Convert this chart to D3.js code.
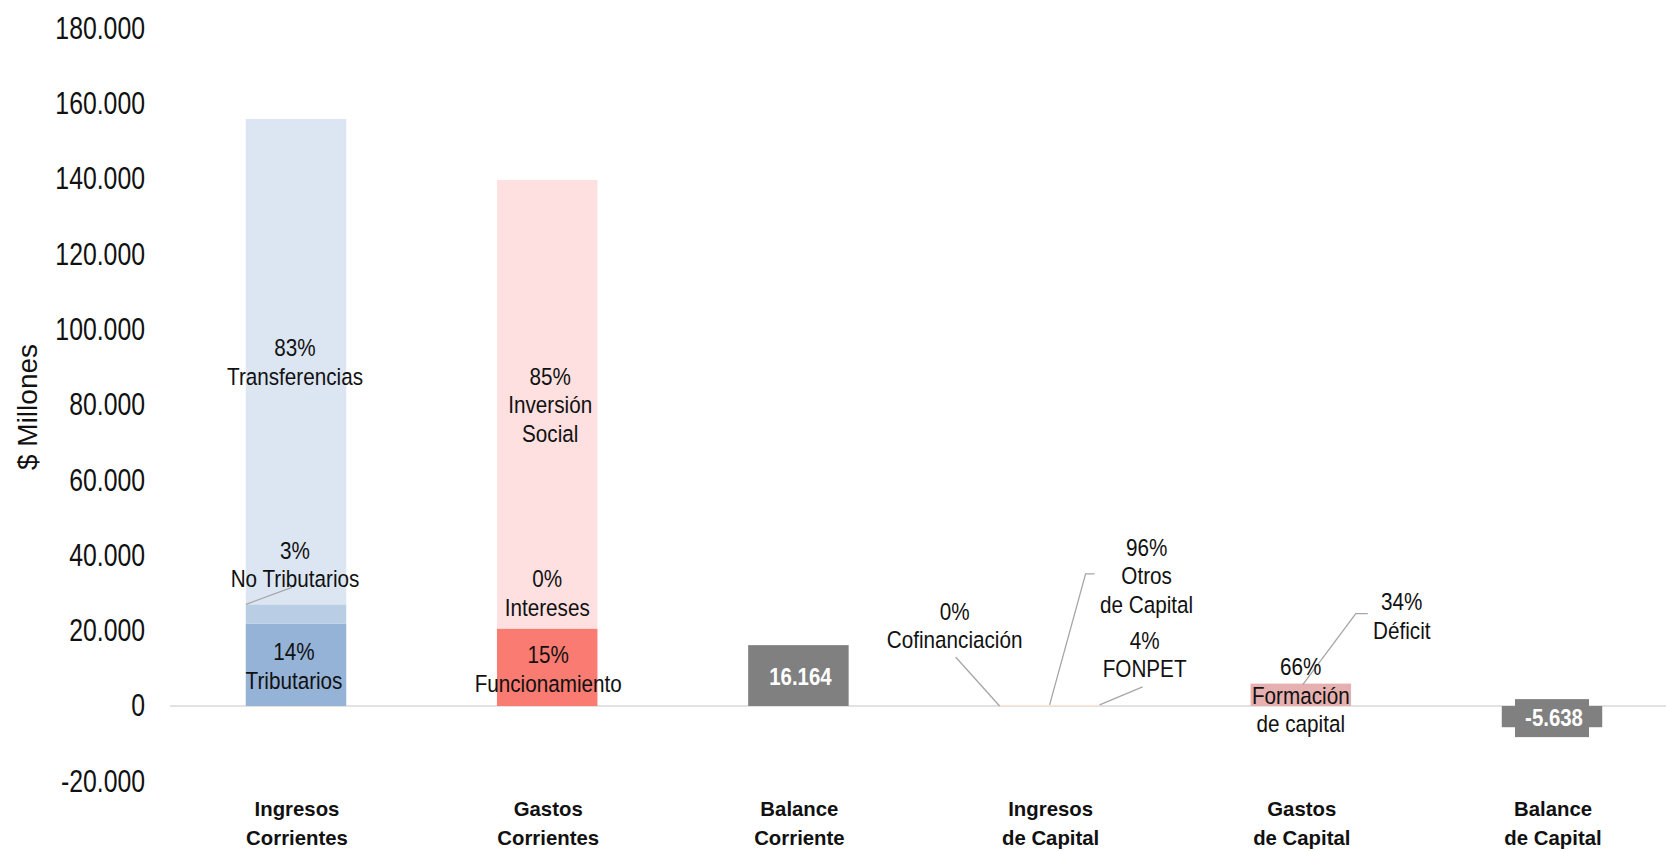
<!DOCTYPE html>
<html>
<head>
<meta charset="utf-8">
<script src="https://cdn.jsdelivr.net/npm/d3@7"></script>
<style>
  body { margin: 0; background: #fff; }
  svg { display: block; font-family: "Liberation Sans", Arial, sans-serif; }
</style>
</head>
<body>
<svg id="chart" width="1666" height="851"></svg>
<script>
// categories and tick labels
const categories = ["Ingresos Corrientes", "Gastos Corrientes", "Balance Corriente",
  "Ingresos de Capital", "Gastos de Capital", "Balance de Capital"];
const categoryLines = [["Ingresos", "Corrientes"], ["Gastos", "Corrientes"], ["Balance", "Corriente"],
  ["Ingresos", "de Capital"], ["Gastos", "de Capital"], ["Balance", "de Capital"]];
const yTicks = [-20000, 0, 20000, 40000, 60000, 80000, 100000, 120000, 140000, 160000, 180000];

// series values ($ millones), stacked from the bottom up
const ingresosCorrientes = [
  { name: "Tributarios", value: 21900, pct: "14%" },
  { name: "No Tributarios", value: 5100, pct: "3%" },
  { name: "Transferencias", value: 128900, pct: "83%" }
];
const gastosCorrientes = [
  { name: "Funcionamiento", value: 20450, pct: "15%" },
  { name: "Intereses", value: 250, pct: "0%" },
  { name: "Inversión Social", value: 119000, pct: "85%" }
];
const ingresosCapital = [
  { name: "Cofinanciación", value: 0, pct: "0%" },
  { name: "Otros de Capital", value: 300, pct: "96%" },
  { name: "FONPET", value: 12, pct: "4%" }
];
const gastosCapital = [
  { name: "Formación de capital", value: 5950, pct: "66%" },
  { name: "Déficit", value: 0, pct: "34%" }
];
const balances = { "Balance Corriente": 16164, "Balance de Capital": -5638 };

// styles
const colors = {
  "Tributarios": "#95b3d7", "No Tributarios": "#b9cde5", "Transferencias": "#dce6f2",
  "Funcionamiento": "#f97b72", "Intereses": "#fdd0cd", "Inversión Social": "#fde0df",
  "Cofinanciación": "#fbe5d6", "Otros de Capital": "#fbe5d6", "FONPET": "#fbe5d6",
  "Formación de capital": "#e6b0b0", "Déficit": "none", "balance": "#808080"
};
const labelText = {
  "Transferencias": ["Transferencias"], "No Tributarios": ["No Tributarios"], "Tributarios": ["Tributarios"],
  "Inversión Social": ["Inversión", "Social"], "Intereses": ["Intereses"], "Funcionamiento": ["Funcionamiento"],
  "Cofinanciación": ["Cofinanciación"], "Otros de Capital": ["Otros", "de Capital"], "FONPET": ["FONPET"],
  "Formación de capital": ["Formación", "de capital"], "Déficit": ["Déficit"]
};
// offsets from the segment centre; leader points relative to bar centre / segment top
const labelPlace = {
  "Tributarios": { dx: -2, dy: 2 },
  "No Tributarios": { dx: -1, dy: -49, leader: [[-50, 0], [-4, -17]] },
  "Transferencias": { dx: -1, dy: 1 },
  "Funcionamiento": { dx: 1, dy: 2 },
  "Intereses": { dx: 0, dy: -35 },
  "Inversión Social": { dx: 3, dy: 1 },
  "Cofinanciación": { dx: -95, dy: -80, leader: [[-50, 0], [-94, -49]] },
  "Otros de Capital": { dx: 97, dy: -129, leader: [[0, 0], [36, -131], [45, -131]] },
  "FONPET": { dx: 95, dy: -50, leader: [[50, 0], [93, -18]] },
  "Formación de capital": { dx: 0, dy: 1 },
  "Déficit": { dx: 101, dy: -67, leader: [[2, 1], [55, -70], [67, -70]] }
};

const svg = d3.select("#chart");
const x = d3.scaleBand().domain(categories).range([170.4, 1677.6]).paddingInner(0.6).paddingOuter(0.3);
const y = d3.scaleLinear().domain([-20000, 180000]).range([781.3, 28.3]);
const lineH = 28.5;

const loc = d3.formatLocale({ decimal: ",", thousands: ".", grouping: [3], currency: ["$", ""], minus: "-" });
const fmt = loc.format(",d");

// y axis (labels only, condensed like the original)
const yAxis = svg.append("g")
  .attr("transform", "translate(145,0)")
  .call(d3.axisLeft(y).tickValues(yTicks).tickFormat(fmt).tickSize(0).tickPadding(0));
yAxis.select(".domain").remove();
yAxis.selectAll("text")
  .attr("transform", "scale(0.8,1)")
  .style("font-size", "31px")
  .style("font-family", "'Liberation Sans', Arial, sans-serif")
  .attr("fill", "#111");

svg.append("text")
  .attr("transform", "translate(37,407) rotate(-90)")
  .attr("text-anchor", "middle")
  .style("font-size", "28px")
  .attr("fill", "#111")
  .text("$ Millones");

function multiLine(g, cx, cy, lines, opts) {
  const t = g.append("g")
    .attr("transform", `translate(${cx},0) scale(${opts.sx || 0.88},1)`)
    .append("text")
    .attr("text-anchor", "middle")
    .style("font-size", opts.size || "23.5px")
    .style("font-weight", opts.weight || "normal")
    .attr("fill", opts.fill || "#111");
  const top = cy - (lines.length - 1) * lineH / 2;
  lines.forEach((l, i) => {
    t.append("tspan").attr("x", 0).attr("y", top + i * lineH).attr("dominant-baseline", "central").text(l);
  });
}

const stacks = [
  ["Ingresos Corrientes", ingresosCorrientes],
  ["Gastos Corrientes", gastosCorrientes],
  ["Ingresos de Capital", ingresosCapital],
  ["Gastos de Capital", gastosCapital]
];

// zero line
svg.append("line")
  .attr("x1", 170).attr("x2", 1666).attr("y1", y(0)).attr("y2", y(0))
  .attr("stroke", "#d9d9d9").attr("stroke-width", 1.5);

const barsG = svg.append("g");
const leadG = svg.append("g");
const labG = svg.append("g");

stacks.forEach(([cat, segs]) => {
  let base = 0;
  const cx = x(cat) + x.bandwidth() / 2;
  segs.forEach(s => {
    const y0 = y(base), y1 = y(base + s.value);
    base += s.value;
    if (colors[s.name] !== "none") {
      barsG.append("rect")
        .attr("x", x(cat)).attr("width", x.bandwidth())
        .attr("y", Math.min(y0, y1)).attr("height", Math.max(Math.abs(y0 - y1), 0))
        .attr("fill", colors[s.name]);
    }
    const p = labelPlace[s.name];
    const my = (y0 + y1) / 2;
    multiLine(labG, cx + p.dx, my + p.dy, [s.pct].concat(labelText[s.name]), {});
    if (p.leader) {
      leadG.append("path")
        .attr("d", d3.line()(p.leader.map(q => [cx + q[0], y1 + q[1]])))
        .attr("fill", "none").attr("stroke", "#a6a6a6").attr("stroke-width", 1.3);
    }
  });
});

// balance bars
Object.entries(balances).forEach(([cat, v]) => {
  const cx = x(cat) + x.bandwidth() / 2;
  barsG.append("rect")
    .attr("x", x(cat)).attr("width", x.bandwidth())
    .attr("y", Math.min(y(0), y(v))).attr("height", Math.abs(y(v) - y(0)))
    .attr("fill", colors.balance);
  const my = (y(0) + y(v)) / 2 + 1.5;
  labG.append("rect")
    .attr("x", cx - 37).attr("y", my - 19).attr("width", 74).attr("height", 38)
    .attr("fill", colors.balance);
  multiLine(labG, cx + 2, my, [fmt(v)], { weight: "bold", fill: "#fff", size: "24px", sx: 0.85 });
});

// category labels
categories.forEach((c, i) => {
  const cx = x(c) + x.bandwidth() / 2;
  multiLine(svg, cx + 1, 823, categoryLines[i], { weight: "bold", size: "21px", sx: 0.97 });
});
</script>
</body>
</html>
